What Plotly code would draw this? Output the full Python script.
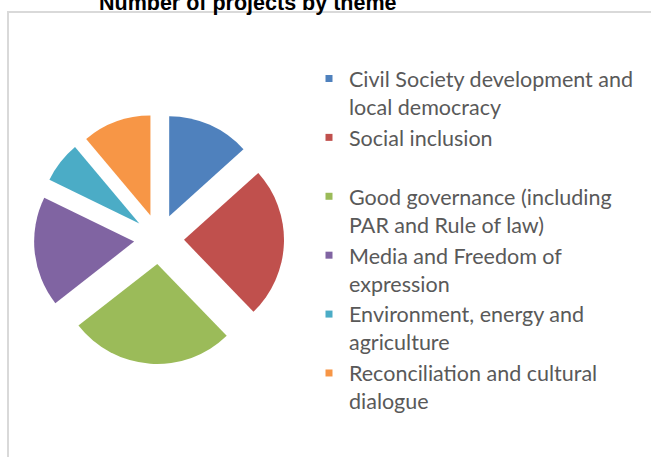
import plotly.graph_objects as go

# Project counts per theme
themes = [
    "Civil Society development and<br>local democracy",
    "Social inclusion<br>&nbsp;",
    "Good governance (including<br>PAR and Rule of law)",
    "Media and Freedom of<br>expression",
    "Environment, energy and<br>agriculture",
    "Reconciliation and cultural<br>dialogue",
]
projects = [6, 11, 12, 8, 3, 5]
colors = ["#4F81BD", "#C0504D", "#9BBB59", "#8064A2", "#4BACC6", "#F79646"]

W, H = 651, 457


def px(x):
    return x / W


def py(y):
    return 1 - y / H


fig = go.Figure()

fig.add_trace(
    go.Pie(
        labels=themes,
        values=projects,
        sort=False,
        direction="clockwise",
        rotation=0,
        pull=0.25,
        marker=dict(colors=colors, line=dict(width=0)),
        textinfo="none",
        hoverinfo="label+value",
        showlegend=False,
        domain=dict(x=[px(34), px(284)], y=[py(365), py(113)]),
    )
)

# Legend entries with small square keys
for name, color in zip(themes, colors):
    fig.add_trace(
        go.Scatter(
            x=[None],
            y=[None],
            mode="markers",
            name=name,
            marker=dict(symbol="square", size=7, color=color),
            hoverinfo="skip",
        )
    )

fig.update_layout(
    width=W,
    height=H,
    autosize=False,
    margin=dict(l=0, r=0, t=0, b=0),
    paper_bgcolor="white",
    plot_bgcolor="white",
    showlegend=True,
    xaxis=dict(visible=False),
    yaxis=dict(visible=False),
    legend=dict(
        x=px(309),
        y=py(58),
        xanchor="left",
        yanchor="top",
        valign="top",
        font=dict(family="Lato", size=21.5, color="#595959"),
        bgcolor="rgba(0,0,0,0)",
        borderwidth=0,
        tracegroupgap=0,
    ),
    annotations=[
        dict(
            text="<b>Number of projects by theme</b>",
            xref="paper",
            yref="paper",
            x=px(248),
            y=py(3.5),
            xanchor="center",
            yanchor="middle",
            showarrow=False,
            font=dict(family="Liberation Sans, Arial", size=21.5, color="black"),
        )
    ],
    shapes=[
        dict(
            type="rect",
            xref="paper",
            yref="paper",
            x0=px(8),
            x1=1.05,
            y0=py(12),
            y1=-0.05,
            line=dict(color="#D9D9D9", width=2),
            fillcolor="rgba(0,0,0,0)",
        )
    ],
)

fig.write_html("out.html")
